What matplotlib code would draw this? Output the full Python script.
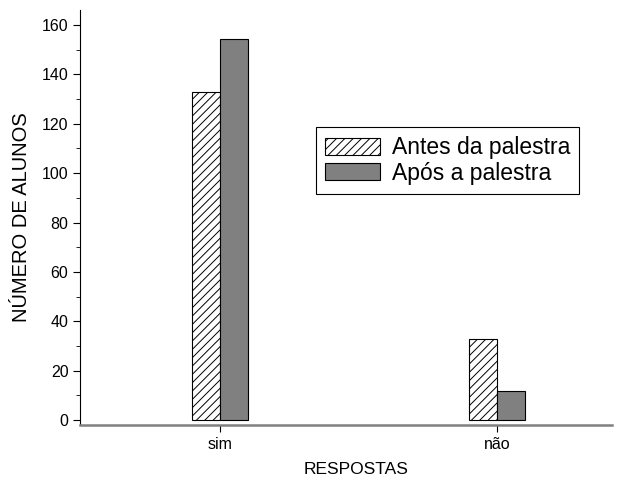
import numpy as np
import matplotlib.pyplot as plt

plt.rcParams['font.family'] = ['Liberation Sans', 'DejaVu Sans']
plt.rcParams['hatch.linewidth'] = 0.7

categorias = ['sim', 'não']
antes = [133, 33]
apos = [154.5, 12]

fig = plt.figure(figsize=(6.27, 4.82), dpi=100)
ax = fig.add_axes([0.128, 0.118, 0.848, 0.861])

x = np.array([1, 2])
w = 0.1
ax.bar(x - w / 2, antes, w, facecolor='white', edgecolor='black', hatch='////',
       linewidth=0.8, label='Antes da palestra')
ax.bar(x + w / 2, apos, w, facecolor='#808080', edgecolor='black',
       linewidth=0.8, label='Após a palestra')

ax.set_xlim(0.495, 2.415)
ax.set_ylim(-2, 166)
ax.set_xticks(x)
ax.set_xticklabels(categorias, fontsize=11.5)
ax.set_yticks(np.arange(0, 161, 20))
ax.set_yticks(np.arange(10, 161, 20), minor=True)
ax.tick_params(axis='y', labelsize=11.5, direction='out', length=5)
ax.tick_params(axis='y', which='minor', length=3)
ax.tick_params(axis='x', direction='out', length=5)

ax.spines['top'].set_visible(False)
ax.spines['right'].set_visible(False)
ax.spines['bottom'].set_color('#808080')
ax.spines['bottom'].set_linewidth(1.8)

ax.set_xlabel('RESPOSTAS', fontsize=12.5)
ax.xaxis.set_label_coords(0.519, -0.088)
ax.set_ylabel('NÚMERO DE ALUNOS', fontsize=14.5)
ax.yaxis.set_label_coords(-0.092, 0.5)

leg = ax.legend(loc='upper left', bbox_to_anchor=(0.4436, 0.718), borderaxespad=0,
                fontsize=16.5, fancybox=False, edgecolor='black', framealpha=1,
                handlelength=2.4, handleheight=0.75, borderpad=0.4,
                labelspacing=0.1, handletextpad=0.5)
leg.get_frame().set_linewidth(0.8)

fig.savefig('out.png', dpi=100)
